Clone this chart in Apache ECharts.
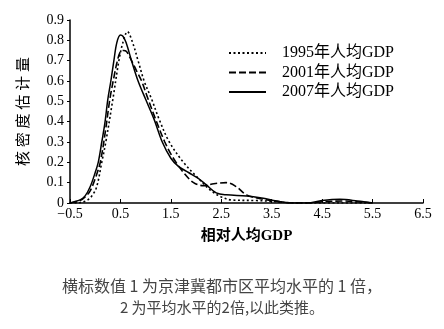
<!DOCTYPE html>
<html>
<head>
<meta charset="utf-8">
<script src="https://cdn.jsdelivr.net/npm/echarts@6/dist/echarts.min.js"></script>
<style>
  html, body { margin: 0; padding: 0; background: #fff; }
  #chart { width: 444px; height: 329px; }
</style>
</head>
<body>
<div id="chart"></div>
<script>
// Kernel density estimates of relative per-capita GDP, [x, density]
const density1995 = [
  [-0.5, 0], [-0.3, 0.002], [-0.15, 0.015], [-0.05, 0.04], [0.03, 0.08],
  [0.13, 0.2], [0.21, 0.3], [0.35, 0.51], [0.47, 0.7], [0.55, 0.79],
  [0.64, 0.843], [0.74, 0.79], [0.85, 0.7], [0.97, 0.6], [1.12, 0.51],
  [1.27, 0.41], [1.47, 0.3], [1.75, 0.2], [2.05, 0.12], [2.3, 0.06],
  [2.5, 0.03], [2.7, 0.015], [3.2, 0.012], [3.5, 0.008], [3.8, 0.002],
  [4.0, 0], [5.5, 0]
];
const density2001 = [
  [-0.5, 0], [-0.4, 0.005], [-0.3, 0.012], [-0.2, 0.03], [-0.1, 0.06],
  [0.0, 0.12], [0.1, 0.2], [0.2, 0.35], [0.29, 0.51], [0.38, 0.63],
  [0.44, 0.7], [0.5, 0.745], [0.56, 0.75], [0.62, 0.745], [0.72, 0.7],
  [0.82, 0.65], [0.92, 0.6], [1.05, 0.51], [1.2, 0.41], [1.38, 0.3],
  [1.55, 0.22], [1.75, 0.15], [1.95, 0.1], [2.15, 0.085], [2.35, 0.095],
  [2.6, 0.1], [2.8, 0.08], [3.0, 0.04], [3.3, 0.02], [3.6, 0.008],
  [3.9, 0], [4.2, 0], [4.5, 0.006], [4.9, 0.01], [5.3, 0.004], [5.5, 0]
];
const density2007 = [
  [-0.5, 0], [-0.4, 0.008], [-0.3, 0.015], [-0.2, 0.035], [-0.1, 0.08],
  [0.0, 0.15], [0.06, 0.2], [0.13, 0.3], [0.19, 0.39], [0.25, 0.51],
  [0.31, 0.6], [0.37, 0.7], [0.43, 0.79], [0.5, 0.826], [0.55, 0.82],
  [0.61, 0.79], [0.72, 0.7], [0.85, 0.6], [1.0, 0.51], [1.17, 0.41],
  [1.33, 0.3], [1.5, 0.22], [1.65, 0.18], [1.85, 0.15], [2.05, 0.12],
  [2.2, 0.09], [2.4, 0.05], [2.6, 0.04], [3.0, 0.035], [3.3, 0.025],
  [3.6, 0.01], [3.9, 0], [4.2, 0], [4.5, 0.012], [4.85, 0.018],
  [5.2, 0.01], [5.5, 0]
];

const seriesNames = ['1995年人均GDP', '2001年人均GDP', '2007年人均GDP'];
const xTickValues = [-0.5, 0.5, 1.5, 2.5, 3.5, 4.5, 5.5, 6.5];
const captionLines = [
  '横标数值 1 为京津冀都市区平均水平的 1 倍，',
  '2 为平均水平的2倍,以此类推。'
];

const serif = '"Liberation Serif", "Noto Sans CJK SC", serif';
const chart = echarts.init(document.getElementById('chart'), null, { renderer: 'canvas' });

function lineSeries(name, data, type) {
  return {
    name: name,
    type: 'line',
    data: data,
    symbol: 'none',
    showSymbol: false,
    smooth: 0.35,
    silent: true,
    itemStyle: { color: '#000' },
    lineStyle: { color: '#000', width: type === 'solid' ? 1.5 : 1.6, type: type }
  };
}

chart.setOption({
  animation: false,
  backgroundColor: '#fff',
  grid: { left: 70, right: 21, top: 20, bottom: 126 },
  legend: {
    orient: 'vertical',
    left: 223,
    top: 40,
    itemWidth: 37,
    itemHeight: 14,
    itemGap: 3.5,
    data: seriesNames,
    itemStyle: { opacity: 0 },
    textStyle: { fontFamily: serif, fontSize: 16, color: '#000', padding: [0, 0, 0, 11] }
  },
  xAxis: {
    type: 'value',
    min: -0.5,
    max: 6.5,
    name: '相对人均GDP',
    nameLocation: 'middle',
    nameGap: 26,
    nameTextStyle: { fontFamily: serif, fontSize: 15, color: '#000', fontWeight: 'bold' },
    axisLine: { lineStyle: { color: '#000', width: 1.5 } },
    axisTick: { inside: true, length: 4, lineStyle: { color: '#000' }, customValues: xTickValues },
    axisLabel: {
      customValues: xTickValues,
      fontFamily: serif, fontSize: 14, color: '#000', margin: 4,
      formatter: v => (v < 0 ? '\u2212' + Math.abs(v) : String(v))
    },
    splitLine: { show: false }
  },
  yAxis: {
    type: 'value',
    min: 0,
    max: 0.9,
    interval: 0.1,
    name: '核 密 度 估 计 量',
    nameLocation: 'middle',
    nameRotate: 90,
    nameGap: 38,
    nameTextStyle: { fontFamily: serif, fontSize: 15, color: '#000' },
    axisLine: { show: true, onZero: false, lineStyle: { color: '#000', width: 1.5 } },
    axisTick: { show: true, length: 3, lineStyle: { color: '#000' } },
    axisLabel: {
      fontFamily: serif, fontSize: 14, color: '#000', margin: 6,
      formatter: v => (v === 0 ? '0' : v.toFixed(1))
    },
    splitLine: { show: false }
  },
  series: [
    lineSeries(seriesNames[0], density1995, [2, 2.5]),
    lineSeries(seriesNames[1], density2001, [7, 3]),
    lineSeries(seriesNames[2], density2007, 'solid')
  ],
  graphic: [
    {
      type: 'text', left: 'center', top: 278,
      style: { text: captionLines[0], font: '16px "Noto Sans CJK SC"', fill: '#444' },
      x: -4
    },
    {
      type: 'text', left: 'center', top: 300,
      style: { text: captionLines[1], font: '15px "Noto Sans CJK SC"', fill: '#444' },
      x: -31
    }
  ]
});
</script>
</body>
</html>
